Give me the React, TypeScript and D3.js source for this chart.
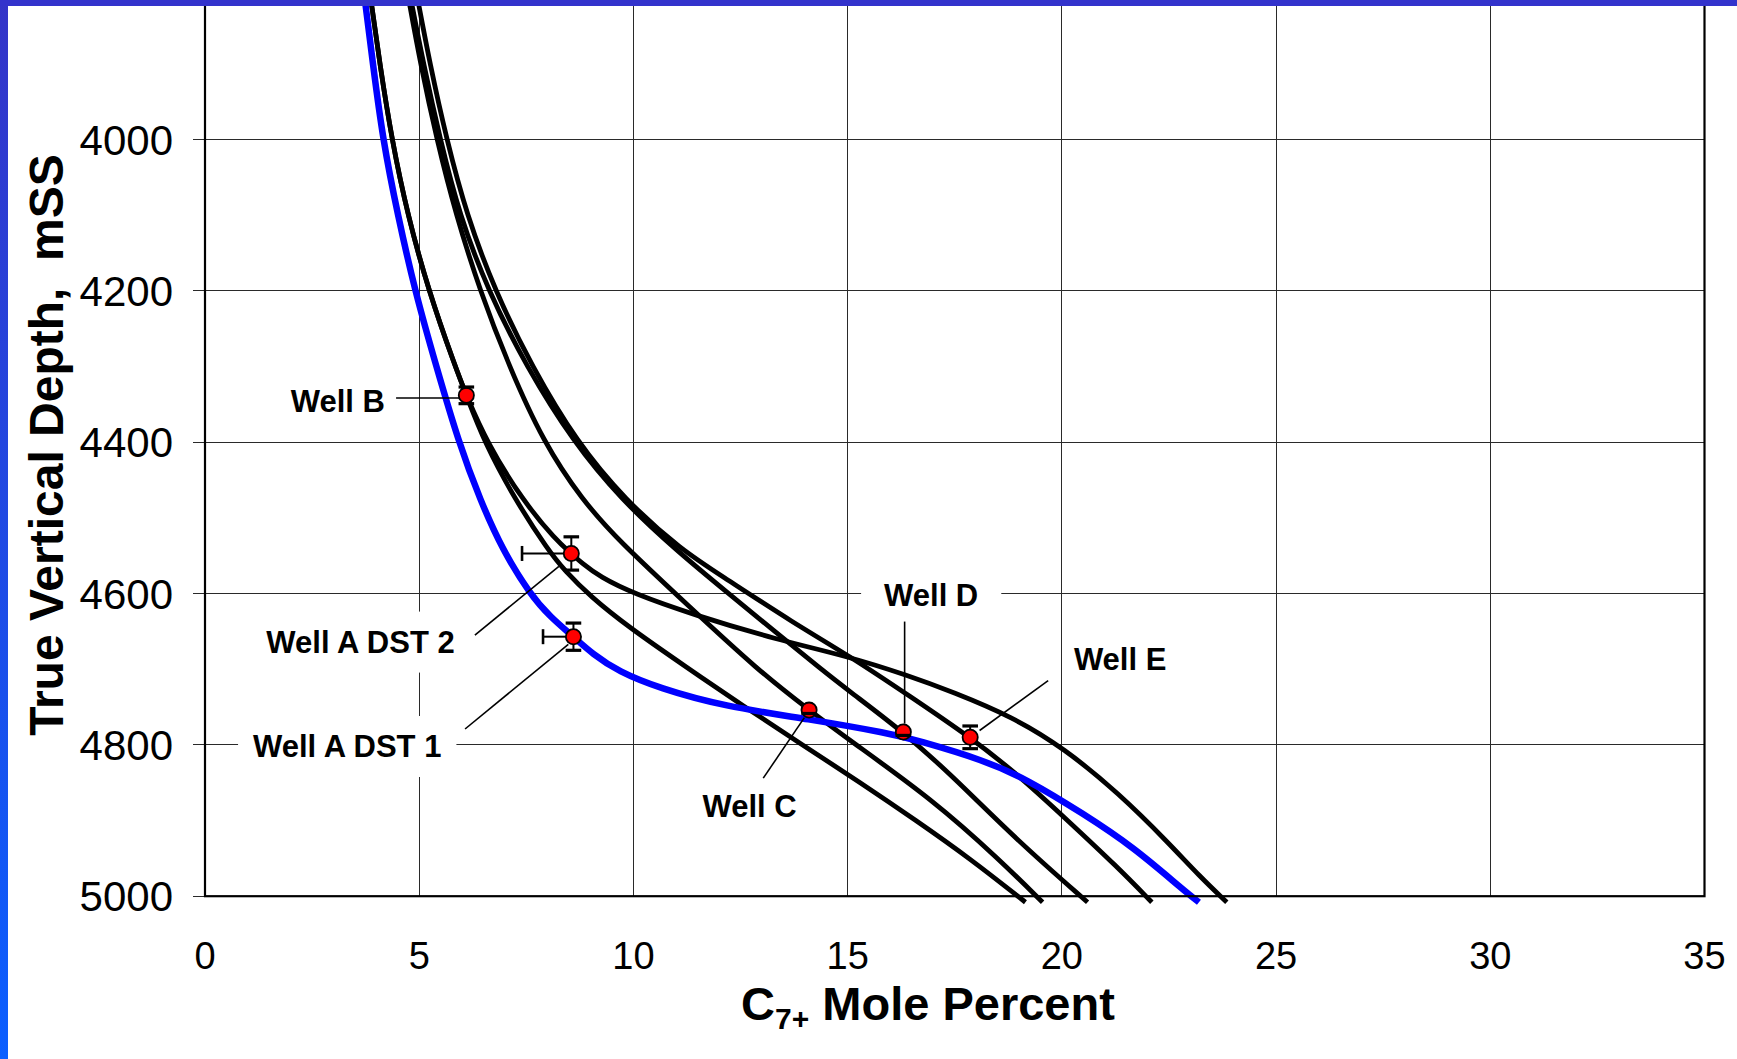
import React, { useEffect, useRef } from "react";
import * as d3 from "d3";

// [true vertical depth (m SS), C7+ mole percent]
type Pt = [number, number];

const xTicks = [0, 5, 10, 15, 20, 25, 30, 35];
const yTicks = [4000, 4200, 4400, 4600, 4800, 5000];

// Measured samples
const wellNames = ["Well B", "Well A DST 2", "Well A DST 1", "Well C", "Well D", "Well E"];
const wellC7 = [6.1, 8.55, 8.6, 14.1, 16.3, 17.86];
const wellTvd = [4338, 4547, 4657, 4754, 4783, 4790];
const wellTvdErrUp = [11, 22, 18, 0, 0, 15];
const wellTvdErrDown = [11, 22, 18, 4.5, 4.5, 15];
const wellC7ErrLow = [0, 1.15, 0.71, 0, 0, 0];

// Modelled compositional gradients
const gradientWellB: Pt[] = [
  [3810, 3.86], [3900, 4.08], [4000, 4.36], [4100, 4.73], [4200, 5.22], [4300, 5.84],
  [4338, 6.1], [4400, 6.52], [4476, 7.24], [4542, 8.0], [4570, 8.4], [4604, 9.0],
  [4644, 9.88], [4697, 11.23], [4750, 12.6], [4800, 13.95], [4850, 15.3], [4900, 16.6],
  [4950, 17.85], [5008, 19.15],
];
const gradientDst2: Pt[] = [
  [3810, 3.86], [3900, 4.08], [4000, 4.36], [4100, 4.73], [4200, 5.22], [4300, 5.84],
  [4338, 6.1], [4400, 6.58], [4476, 7.4], [4530, 8.2], [4547, 8.55], [4560, 8.8],
  [4578, 9.22], [4600, 10.0], [4628, 11.4], [4661, 13.35], [4682, 14.95], [4708, 16.4],
  [4730, 17.45], [4763, 18.85], [4804, 20.04], [4864, 21.33], [4930, 22.5], [4974, 23.22],
  [5008, 23.85],
];
const gradientWellC: Pt[] = [
  [3810, 4.74], [3900, 5.03], [4000, 5.41], [4100, 5.86], [4200, 6.42], [4300, 7.1],
  [4400, 7.9], [4476, 8.8], [4530, 9.65], [4617, 11.3], [4701, 12.9], [4754, 14.1],
  [4792, 15.0], [4873, 17.0], [4952, 18.55], [5008, 19.55],
];
const gradientWellD: Pt[] = [
  [3810, 4.79], [3900, 5.1], [4000, 5.49], [4100, 5.94], [4200, 6.61], [4300, 7.5],
  [4400, 8.6], [4476, 9.72], [4543, 11.0], [4600, 12.22], [4650, 13.3], [4700, 14.38],
  [4730, 15.06], [4783, 16.3], [4838, 17.39], [4926, 18.95], [5008, 20.6],
];
const gradientWellE: Pt[] = [
  [3810, 4.95], [3900, 5.25], [4000, 5.64], [4100, 6.11], [4200, 6.77], [4300, 7.63],
  [4400, 8.68], [4476, 9.8], [4543, 11.13], [4578, 12.1], [4639, 13.74], [4683, 15.06],
  [4736, 16.46], [4790, 17.86], [4838, 18.95], [4899, 20.12], [4961, 21.29], [5008, 22.1],
];
const gradientDst1: Pt[] = [
  [3810, 3.72], [3900, 3.92], [4000, 4.15], [4100, 4.5], [4200, 4.9], [4300, 5.4],
  [4400, 5.92], [4476, 6.42], [4543, 6.95], [4601, 7.59], [4631, 8.06], [4657, 8.6],
  [4680, 9.05], [4703, 9.65], [4725, 10.6], [4749, 12.1], [4766, 14.1], [4785, 16.0],
  [4794, 16.62], [4820, 18.17], [4846, 19.2], [4891, 20.5], [4935, 21.67], [4992, 22.84],
  [5008, 23.2],
];

const blackProfiles = [gradientWellB, gradientDst2, gradientWellC, gradientWellD, gradientWellE];
const blueProfiles = [gradientDst1];

// Callouts: text centre / baseline and leader ends, in chart units
const calloutText = wellNames;
const calloutC7 = [3.1, 3.63, 3.32, 12.71, 16.95, 21.36];
const calloutTvd = [4360, 4678, 4816, 4895, 4616.5, 4701];
const leaderFrom: Pt[] = [[4341.6, 4.46], [4655, 6.3], [4779, 6.07], [4844, 13.03], [4637, 16.33], [4715, 19.68]];
const leaderTo: Pt[] = [[4341.6, 5.98], [4564, 8.26], [4667, 8.48], [4764, 13.99], [4772, 16.33], [4781, 18.08]];

export default function App() {
  const ref = useRef<SVGSVGElement | null>(null);

  useEffect(() => {
    const W = 1737;
    const H = 1059;
    const font = "'Liberation Sans', Arial, Helvetica, sans-serif";
    const svg = d3.select(ref.current as SVGSVGElement);
    svg.selectAll("*").remove();

    const x = d3.scaleLinear().domain([0, 35]).range([205, 1704.5]);
    const y = d3.scaleLinear().domain([3800, 5000]).range([-11.7, 896.2]);

    const defs = svg.append("defs");
    const grad = defs.append("linearGradient").attr("id", "edgeGrad")
      .attr("x1", 0).attr("y1", 0).attr("x2", 0).attr("y2", 1);
    grad.append("stop").attr("offset", "0%").attr("stop-color", "#3434c8");
    grad.append("stop").attr("offset", "100%").attr("stop-color", "#0b5fff");

    svg.append("rect").attr("width", W).attr("height", H).attr("fill", "#ffffff");

    // grid
    const grid = svg.append("g").attr("stroke", "#2a2a2a").attr("stroke-width", 1)
      .attr("shape-rendering", "crispEdges");
    xTicks.filter((t) => t > 0 && t < 35).forEach((t) => {
      grid.append("line").attr("x1", x(t)).attr("x2", x(t)).attr("y1", y(3800)).attr("y2", y(5000));
    });
    yTicks.filter((t) => t < 5000).forEach((t) => {
      grid.append("line").attr("x1", x(0)).attr("x2", x(35)).attr("y1", y(t)).attr("y2", y(t));
    });
    yTicks.forEach((t) => {
      grid.append("line").attr("x1", x(0) - 12.5).attr("x2", x(0)).attr("y1", y(t)).attr("y2", y(t));
    });

    const boxLayer = svg.append("g");

    // gradient curves
    const line = d3.line<Pt>().x((p) => x(p[1])).y((p) => y(p[0])).curve(d3.curveBasis);
    const curves = svg.append("g").attr("fill", "none").attr("stroke-linejoin", "round");
    blackProfiles.forEach((pts) => {
      curves.append("path").attr("d", line(pts) as string).attr("stroke", "#000").attr("stroke-width", 4.8);
    });
    blueProfiles.forEach((pts) => {
      curves.append("path").attr("d", line(pts) as string).attr("stroke", "#0000ff").attr("stroke-width", 6.5);
    });

    // leaders
    const leaders = svg.append("g").attr("stroke", "#000").attr("stroke-width", 1.6);
    leaderFrom.forEach((a, i) => {
      const b = leaderTo[i];
      leaders.append("line").attr("x1", x(a[1])).attr("y1", y(a[0])).attr("x2", x(b[1])).attr("y2", y(b[0]));
    });

    // error whiskers
    const whisk = svg.append("g").attr("stroke", "#000").attr("stroke-width", 2);
    wellC7.forEach((c, i) => {
      const cx = x(c);
      const cy = y(wellTvd[i]);
      if (wellTvdErrUp[i] > 0 || wellTvdErrDown[i] > 0) {
        whisk.append("line").attr("x1", cx).attr("x2", cx)
          .attr("y1", y(wellTvd[i] - wellTvdErrUp[i])).attr("y2", y(wellTvd[i] + wellTvdErrDown[i]));
      }
      if (wellC7ErrLow[i] > 0) {
        const lx = x(c - wellC7ErrLow[i]);
        whisk.append("line").attr("x1", lx).attr("x2", cx).attr("y1", cy).attr("y2", cy);
        whisk.append("line").attr("x1", lx).attr("x2", lx).attr("y1", cy - 7.5).attr("y2", cy + 7.5)
          .attr("stroke-width", 2.6);
      }
    });

    // markers
    svg.append("g").selectAll("circle").data(wellC7).join("circle")
      .attr("cx", (d) => x(d)).attr("cy", (_d, i) => y(wellTvd[i])).attr("r", 7.6)
      .attr("fill", "#ff0000").attr("stroke", "#000").attr("stroke-width", 1.8);

    // error caps
    const caps = svg.append("g").attr("stroke", "#000").attr("stroke-width", 3.2);
    wellC7.forEach((c, i) => {
      const cx = x(c);
      if (wellTvdErrUp[i] > 0) {
        const yy = y(wellTvd[i] - wellTvdErrUp[i]);
        caps.append("line").attr("x1", cx - 7.8).attr("x2", cx + 7.8).attr("y1", yy).attr("y2", yy);
      }
      if (wellTvdErrDown[i] > 0) {
        const yy = y(wellTvd[i] + wellTvdErrDown[i]);
        caps.append("line").attr("x1", cx - 7.8).attr("x2", cx + 7.8).attr("y1", yy).attr("y2", yy);
      }
    });

    // callout labels with white backing
    const padX = [15, 15, 15, 15, 23, 8];
    const labels = svg.append("g").attr("font-family", font).attr("font-weight", "bold")
      .attr("font-size", 31).attr("fill", "#000").attr("text-anchor", "middle");
    calloutText.forEach((t, i) => {
      const node = labels.append("text").attr("x", x(calloutC7[i])).attr("y", y(calloutTvd[i])).text(t);
      const bb = (node.node() as SVGTextElement).getBBox();
      boxLayer.append("rect")
        .attr("x", bb.x - padX[i]).attr("y", bb.y - 13)
        .attr("width", bb.width + 2 * padX[i]).attr("height", bb.height + 26)
        .attr("fill", "#ffffff");
    });

    // plot frame
    svg.append("rect").attr("x", x(0)).attr("y", y(3800)).attr("width", x(35) - x(0))
      .attr("height", y(5000) - y(3800)).attr("fill", "none").attr("stroke", "#000").attr("stroke-width", 2.2);

    // tick labels
    const tickG = svg.append("g").attr("font-family", font).attr("fill", "#000");
    yTicks.forEach((t) => {
      tickG.append("text").attr("x", x(0) - 32).attr("y", y(t) + 15).attr("text-anchor", "end")
        .attr("font-size", 42).text(String(t));
    });
    xTicks.forEach((t) => {
      tickG.append("text").attr("x", x(t)).attr("y", 969).attr("text-anchor", "middle")
        .attr("font-size", 38).text(String(t));
    });

    // axis titles
    const xt = svg.append("text").attr("x", 928).attr("y", 1020).attr("text-anchor", "middle")
      .attr("font-family", font).attr("font-weight", "bold").attr("font-size", 47).attr("fill", "#000");
    xt.append("tspan").text("C");
    xt.append("tspan").attr("font-size", 30).attr("dy", 9).text("7+");
    xt.append("tspan").attr("dy", -9).text("\u00a0Mole Percent");

    svg.append("text").attr("transform", "translate(63,445) rotate(-90)").attr("text-anchor", "middle")
      .attr("font-family", font).attr("font-weight", "bold").attr("font-size", 48).attr("fill", "#000")
      .text("True Vertical Depth,\u00a0\u00a0mSS");

    // slide edge bands
    svg.append("rect").attr("x", 0).attr("y", 0).attr("width", 8).attr("height", H).attr("fill", "url(#edgeGrad)");
    svg.append("rect").attr("x", 0).attr("y", 0).attr("width", W).attr("height", 6).attr("fill", "#3333cc");
  }, []);

  return (
    <div style={{ position: "absolute", left: 0, top: 0 }}>
      <svg ref={ref} width={1737} height={1059} style={{ display: "block" }} />
    </div>
  );
}
